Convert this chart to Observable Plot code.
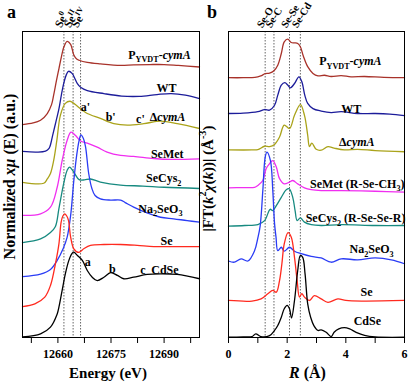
<!DOCTYPE html>
<html><head><meta charset="utf-8">
<script src="https://cdn.jsdelivr.net/npm/d3@7"></script>
<script src="https://cdn.jsdelivr.net/npm/@observablehq/plot@0.6"></script>
<style>
body{margin:0;background:#fff;}
#wrap{position:relative;width:410px;height:382px;overflow:hidden;background:#fff;}
#wrap svg{position:absolute;top:0;overflow:visible;background:transparent !important;}
#wrap svg, #wrap svg text, #wrap svg tspan{font-family:'Liberation Serif','Times New Roman',serif !important;font-weight:bold;}
</style></head><body><div id="wrap"></div>
<script>
// ---------- Panel a: Se K-edge XANES (energy eV, normalized absorption, stacked a.u.) ----------
const xanesPyvdt = [[12650,6.96],[12653,7.01],[12655.1,7.10],[12657,7.32],[12658.2,7.61],[12658.8,7.92],[12659.6,8.40],[12660.3,8.79],[12661.0,9.18],[12661.7,9.50],[12662.6,9.68],[12663.6,9.58],[12664.5,9.23],[12665.3,9.10],[12666.0,9.06],[12668.3,8.99],[12672,8.94],[12677.7,8.89],[12681.4,8.91],[12686,8.92],[12690,8.92],[12694,8.89],[12700,8.84]];
const xanesWT = [[12650,6.08],[12654,6.06],[12656.5,6.09],[12657.5,6.18],[12658.0,6.34],[12658.5,6.60],[12659.4,7.03],[12660.3,7.48],[12661.0,7.94],[12661.7,8.33],[12662.4,8.59],[12663.0,8.70],[12664.0,8.63],[12665.5,8.30],[12666.5,8.17],[12668.3,8.07],[12673,7.97],[12678,7.89],[12683,7.88],[12688,7.94],[12692,7.97],[12696,7.92],[12700,7.81]];
const xanesDcymA = [[12650,5.07],[12656.0,5.04],[12657.0,5.18],[12657.9,5.36],[12658.8,5.78],[12659.7,6.44],[12660.7,7.26],[12662.1,7.65],[12663.4,7.72],[12664.5,7.65],[12666.9,7.43],[12668.3,7.32],[12672,7.16],[12675.8,6.99],[12679.6,6.94],[12684.3,6.99],[12689,7.07],[12693.7,6.99],[12700,6.83]];
const xanesSeMet = [[12650,3.99],[12655.1,4.04],[12657.9,4.26],[12659.8,4.91],[12661.2,5.78],[12662.6,6.44],[12663.7,6.71],[12665.0,6.60],[12666.4,6.42],[12668.3,6.35],[12671.1,6.22],[12673.9,6.06],[12677.7,5.95],[12681.4,5.92],[12687.1,5.85],[12691.8,5.82],[12700,5.84]];
const xanesSeCys = [[12650,3.10],[12655.1,3.22],[12657.9,3.43],[12659.3,3.63],[12660.3,4.22],[12661.7,5.07],[12662.6,5.46],[12663.3,5.57],[12664.5,5.40],[12666.0,5.16],[12667.5,5.15],[12669.2,5.18],[12672,5.08],[12677.7,4.98],[12684,4.95],[12690,4.91],[12700,4.87]];
const xanesNaSeO = [[12650,1.99],[12655.1,2.07],[12657.9,2.22],[12659.8,2.52],[12661.5,2.91],[12662.6,3.27],[12663.6,3.99],[12664.5,5.13],[12665.3,5.95],[12666.0,6.44],[12666.5,6.62],[12667.2,6.50],[12667.8,6.24],[12668.7,5.36],[12669.6,4.87],[12670.5,4.64],[12672,4.53],[12674.9,4.49],[12677.7,4.49],[12679,4.41],[12681.4,4.26],[12685.2,4.07],[12689,3.93],[12692.7,3.88],[12696.5,3.82],[12700,3.77]];
const xanesSe = [[12650,1.01],[12653.5,1.10],[12656.3,1.32],[12657.9,1.70],[12659.3,2.41],[12660.3,3.07],[12660.9,3.76],[12661.4,3.97],[12661.9,4.04],[12662.5,3.97],[12663.0,3.82],[12663.6,3.28],[12664.5,2.90],[12665.9,2.78],[12667.3,2.90],[12669.2,3.01],[12673,3.04],[12677.7,3.04],[12682.4,3.01],[12687.1,2.97],[12691.8,2.97],[12700,2.97]];
const xanesCdSe = [[12650,0.02],[12655.1,0.12],[12657.9,0.34],[12659.8,0.77],[12660.3,1.0],[12661.2,1.54],[12662.1,2.08],[12663.1,2.52],[12664.0,2.75],[12664.5,2.79],[12665.5,2.68],[12666.9,2.52],[12668.3,2.19],[12669.7,1.97],[12671.1,1.86],[12673.0,1.97],[12674.9,2.12],[12676.8,2.03],[12678.6,1.92],[12681.4,1.97],[12685.2,2.06],[12689.0,2.08],[12693.7,2.06],[12700,1.92]];

// ---------- Panel b: Fourier transform magnitude (R in Å, stacked a.u.) ----------
const ftPyvdt = [[0,8.49],[0.5,8.49],[0.9,8.50],[1.1,8.55],[1.25,8.62],[1.4,8.64],[1.55,8.72],[1.68,8.90],[1.8,9.28],[1.9,9.66],[2.02,9.75],[2.14,9.64],[2.25,9.63],[2.36,9.61],[2.45,9.50],[2.55,9.20],[2.7,8.85],[2.88,8.63],[3.05,8.55],[3.27,8.57],[3.5,8.53],[3.84,8.56],[4.18,8.52],[4.64,8.53],[5.3,8.50],[6,8.49]];
const ftWT = [[0,7.32],[0.5,7.33],[1.0,7.38],[1.23,7.45],[1.4,7.43],[1.57,7.59],[1.68,7.92],[1.8,8.25],[1.92,8.33],[2.02,8.25],[2.11,8.16],[2.25,8.30],[2.4,8.52],[2.5,8.36],[2.6,7.92],[2.7,7.65],[2.88,7.48],[3.16,7.40],[3.5,7.35],[3.84,7.38],[4.4,7.32],[5.0,7.32],[5.5,7.30],[6,7.25]];
const ftDcymA = [[0,6.13],[0.8,6.13],[1.0,6.14],[1.23,6.25],[1.4,6.24],[1.57,6.31],[1.74,6.55],[1.9,6.94],[2.08,6.83],[2.25,7.26],[2.45,7.61],[2.59,7.26],[2.7,6.61],[2.76,6.24],[2.84,6.35],[2.99,6.15],[3.16,6.12],[3.39,6.24],[3.6,6.19],[3.95,6.13],[4.4,6.15],[5.0,6.11],[6,6.07]];
const ftSeMet = [[0,4.89],[0.5,4.90],[0.89,4.91],[1.0,4.97],[1.17,5.13],[1.28,5.51],[1.4,5.68],[1.51,5.78],[1.63,5.57],[1.74,5.19],[1.9,5.02],[2.08,5.08],[2.19,5.13],[2.36,5.02],[2.59,4.89],[2.82,4.83],[3.16,4.80],[3.84,4.80],[5.0,4.78],[6,4.75]];
const ftSeCys = [[0,3.64],[0.55,3.66],[1.0,3.69],[1.23,3.82],[1.42,4.19],[1.51,4.15],[1.63,4.31],[1.8,4.58],[1.97,4.83],[2.07,4.86],[2.19,4.58],[2.27,4.15],[2.34,3.82],[2.45,3.91],[2.59,3.77],[2.82,3.69],[3.16,3.66],[3.84,3.69],[5.0,3.66],[6,3.66]];
const ftNaSeO = [[0,2.50],[0.2,2.46],[0.43,2.57],[0.66,2.50],[0.89,2.84],[1.0,3.25],[1.08,3.65],[1.17,4.80],[1.25,5.89],[1.31,6.06],[1.43,5.78],[1.51,4.80],[1.57,3.72],[1.62,3.28],[1.68,2.84],[1.8,2.95],[1.9,2.82],[2.08,2.95],[2.25,2.82],[2.48,2.74],[2.82,2.65],[3.16,2.60],[3.5,2.46],[3.84,2.57],[4.4,2.54],[5.0,2.60],[5.55,2.54],[6,2.41]];
const ftSe = [[0,1.21],[0.8,1.19],[1.11,1.26],[1.34,1.43],[1.51,1.54],[1.63,1.48],[1.74,1.86],[1.82,2.41],[1.9,3.06],[2.03,3.43],[2.14,3.28],[2.25,2.62],[2.34,1.86],[2.42,1.32],[2.5,1.43],[2.59,1.32],[2.76,1.21],[2.93,1.37],[3.16,1.26],[3.39,1.15],[3.73,1.26],[4.0,1.21],[4.6,1.19],[6,1.21]];
const ftCdSe = [[0,0.01],[0.5,0.02],[0.8,0.03],[0.93,0.12],[1.1,0.03],[1.4,0.06],[1.57,0.23],[1.68,0.39],[1.8,0.66],[1.9,0.94],[2.0,1.05],[2.08,0.94],[2.15,0.64],[2.25,1.21],[2.36,2.19],[2.45,2.68],[2.53,2.62],[2.61,2.08],[2.7,1.10],[2.8,0.66],[2.91,0.39],[3.05,0.23],[3.16,0.25],[3.33,0.17],[3.5,0.03],[3.6,0.17],[3.76,0.28],[3.95,0.32],[4.13,0.28],[4.35,0.17],[4.64,0.07],[5.0,0.02],[6,0.01]];

const sampleNames = ["PYVDT-cymA","WT","dcymA","SeMet","SeCys2","Na2SeO3","Se","CdSe"];
const sampleColors = ["#a8322a","#1c1c9a","#aaa31a","#f02ef0","#178a80","#2a3cf5","#ff2a1f","#000000"];
const xanesSeries = [xanesPyvdt, xanesWT, xanesDcymA, xanesSeMet, xanesSeCys, xanesNaSeO, xanesSe, xanesCdSe];
const ftSeries = [ftPyvdt, ftWT, ftDcymA, ftSeMet, ftSeCys, ftNaSeO, ftSe, ftCdSe];

// reference edge / shell positions
const edgesA = [12661.7, 12664.3, 12666.4];
const edgeNamesA = ["Se^{0}", "Se^{II}", "Se^{IV}"];
const shellsB = [1.25, 1.55, 2.08, 2.45];
const shellNamesB = ["Se-O", "Se-C", "Se-Se", "Se-Cd"];

// tick values
const ticksA = [12652.5, 12660, 12667.5, 12675, 12682.5, 12690, 12697.5];
const tickLabelsA = [12660, 12675, 12690];
const ticksB = [0, 1, 2, 3, 4, 5, 6];
const tickLabelsB = [0, 2, 4, 6];

// curve labels, right-aligned (data coordinates of the label's right end)
const namesA = [
  {x:12697.5, y:9.10, t:"P_{YVDT}-*cymA*"},
  {x:12693.5, y:8.02, t:"WT"},
  {x:12696.0, y:7.09, t:"Δ*cymA*"},
  {x:12695.5, y:5.88, t:"SeMet"},
  {x:12694.9, y:5.07, t:"SeCys_{2}"},
  {x:12695.2, y:4.08, t:"Na_{2}SeO_{3}"},
  {x:12692.4, y:3.02, t:"Se"},
  {x:12694.1, y:2.08, t:"CdSe"}
];
// feature markers (centred)
const featuresA = [
  {x:12683.3, y:7.00, t:"c'"},
  {x:12667.8, y:7.39, t:"a'"},
  {x:12674.9, y:7.06, t:"b'"},
  {x:12668.4, y:2.35, t:"a"},
  {x:12675.4, y:2.12, t:"b"},
  {x:12684.0, y:2.08, t:"c"}
];
const namesB = [
  {x:5.22, y:8.89, t:"P_{YVDT}-*cymA*"},
  {x:4.53, y:7.35, t:"WT"},
  {x:4.98, y:6.27, t:"Δ*cymA*"},
  {x:6.0, y:4.90, t:"SeMet (R-Se-CH_{3})"},
  {x:6.03, y:3.76, t:"SeCys_{2} (R-Se-Se-R)"},
  {x:5.63, y:2.75, t:"Na_{2}SeO_{3}"},
  {x:4.91, y:1.34, t:"Se"},
  {x:5.2, y:0.40, t:"CdSe"}
];

const FONT = "'Liberation Serif','Times New Roman',serif";
const baseStyle = {fontFamily: FONT, fontWeight: "bold", fontSize: "12px", background: "transparent", overflow: "visible", color: "#000"};

function lines(series) {
  return series.map((s, i) => Plot.line(s, {x: d => d[0], y: d => d[1], stroke: sampleColors[i], strokeWidth: 1.3, curve: "catmull-rom"}));
}

const plotA = Plot.plot({
  width: 200, height: 382,
  marginLeft: 22, marginRight: 1, marginTop: 31, marginBottom: 45,
  x: {domain: [12650, 12700]},
  y: {domain: [0, 10], axis: null},
  style: baseStyle,
  marks: [
    Plot.ruleX(edgesA, {x: d => d, stroke: "#555", strokeDasharray: "1.5,1.5", strokeWidth: 0.9}),
    ...lines(xanesSeries),
    Plot.frame({stroke: "#000", strokeWidth: 1}),
    Plot.axisX({ticks: ticksA, tickSize: 6, tickPadding: 6, label: null, fontSize: 12,
      tickFormat: d => tickLabelsA.includes(d) ? String(d) : ""}),
    Plot.text(namesA, {x: "x", y: "y", text: "t", textAnchor: "end", lineAnchor: "bottom", fontSize: 12}),
    Plot.text(featuresA, {x: "x", y: "y", text: "t", textAnchor: "middle", lineAnchor: "bottom", fontSize: 12}),
    Plot.text(edgesA, {x: d => d, text: (d, i) => edgeNamesA[i], frameAnchor: "top", rotate: -60,
      textAnchor: "start", lineAnchor: "bottom", dx: -3, dy: -3, fontSize: 11.5}),
    Plot.text(["Energy (eV)"], {frameAnchor: "bottom", textAnchor: "middle", dy: 40, dx: -3, lineAnchor: "bottom", fontSize: 15}),
    Plot.text(["Normalized *xμ* (E) (a.u.)"], {frameAnchor: "left", textAnchor: "middle", dx: -8, dy: -8, rotate: -90, lineAnchor: "bottom", fontSize: 16}),
    Plot.text(["a"], {frameAnchor: "top-left", dx: -15.5, dy: -14, textAnchor: "start", lineAnchor: "bottom", fontSize: 18})
  ]
});

const plotB = Plot.plot({
  width: 210, height: 382,
  marginLeft: 28, marginRight: 6, marginTop: 31, marginBottom: 45,
  x: {domain: [0, 6]},
  y: {domain: [0, 10], axis: null},
  style: baseStyle,
  marks: [
    Plot.ruleX(shellsB, {x: d => d, stroke: "#555", strokeDasharray: "1.5,1.5", strokeWidth: 0.9}),
    ...lines(ftSeries),
    Plot.frame({stroke: "#000", strokeWidth: 1}),
    Plot.axisX({ticks: ticksB, tickSize: 6, tickPadding: 6, label: null, fontSize: 12,
      tickFormat: d => tickLabelsB.includes(d) ? String(d) : ""}),
    Plot.text(namesB, {x: "x", y: "y", text: "t", textAnchor: "end", lineAnchor: "bottom", fontSize: 12}),
    Plot.text(shellsB, {x: d => d, text: (d, i) => shellNamesB[i], frameAnchor: "top", rotate: -58,
      textAnchor: "start", lineAnchor: "bottom", dx: -3, dy: -3, fontSize: 10.5}),
    Plot.text(["*R* (Å)"], {frameAnchor: "bottom", textAnchor: "middle", dy: 40, dx: -9, lineAnchor: "bottom", fontSize: 16}),
    Plot.text(["|FT(*k*^{2}*χ*(*k*))| (Å^{-3})"], {frameAnchor: "left", textAnchor: "middle", dx: -16, dy: -6, rotate: -90, lineAnchor: "bottom", fontSize: 15}),
    Plot.text(["b"], {frameAnchor: "top-left", dx: -21.5, dy: -14, textAnchor: "start", lineAnchor: "bottom", fontSize: 18})
  ]
});

const wrap = document.getElementById("wrap");
plotA.style.left = "0px";
plotB.style.left = "200px";
wrap.appendChild(plotA);
wrap.appendChild(plotB);

// rich text: *italic*, _{sub}, ^{super}
function rich(svg) {
  svg.querySelectorAll("text").forEach(el => {
    const s = el.textContent;
    if (!/[\*]|_\{|\^\{/.test(s)) return;
    const fs = parseFloat(getComputedStyle(el).fontSize) || 12;
    const segs = []; let it = false, shift = 0, buf = "";
    const push = () => { if (buf) segs.push({t: buf, it, shift}); buf = ""; };
    for (let i = 0; i < s.length; i++) {
      const c = s[i];
      if (c === "*") { push(); it = !it; }
      else if ((c === "_" || c === "^") && s[i + 1] === "{") { push(); shift = c === "_" ? 1 : -1; i++; }
      else if (c === "}" && shift !== 0) { push(); shift = 0; }
      else buf += c;
    }
    push();
    el.textContent = "";
    let cur = 0;
    for (const g of segs) {
      const ts = document.createElementNS("http://www.w3.org/2000/svg", "tspan");
      const target = g.shift === 1 ? 0.28 * fs : g.shift === -1 ? -0.42 * fs : 0;
      if (target !== cur) { ts.setAttribute("dy", target - cur); cur = target; }
      if (g.shift) ts.setAttribute("font-size", 0.68 * fs);
      if (g.it) ts.setAttribute("font-style", "italic");
      ts.textContent = g.t;
      el.appendChild(ts);
    }
  });
}
rich(plotA);
rich(plotB);
</script></body></html>
